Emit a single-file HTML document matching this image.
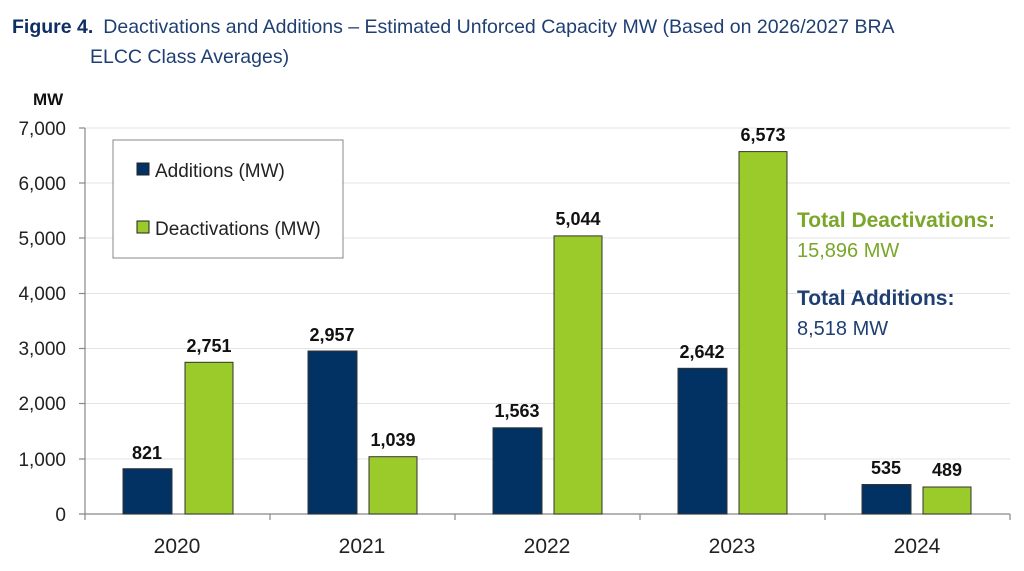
<!DOCTYPE html>
<html><head><style>
body{margin:0;background:#fff;}
svg{display:block;font-family:"Liberation Sans",Arial,sans-serif;}
</style></head><body>
<svg width="1024" height="571" viewBox="0 0 1024 571">
<text x="12" y="33" font-size="19.5" fill="#1f3f73"><tspan font-weight="bold" fill="#0f2e63">Figure 4.</tspan><tspan dx="10">Deactivations and Additions – Estimated Unforced Capacity MW (Based on 2026/2027 BRA</tspan></text>
<text x="90" y="63" font-size="19.5" fill="#1f3f73">ELCC Class Averages)</text>
<text x="33" y="105" font-size="17" font-weight="bold" fill="#111">MW</text>
<g stroke="#e3e3e3" stroke-width="1">
<line x1="85" y1="128" x2="1010" y2="128"/><line x1="85" y1="183" x2="1010" y2="183"/>
<line x1="85" y1="238" x2="1010" y2="238"/><line x1="85" y1="293.5" x2="1010" y2="293.5"/>
<line x1="85" y1="348.5" x2="1010" y2="348.5"/><line x1="85" y1="403.5" x2="1010" y2="403.5"/>
<line x1="85" y1="459" x2="1010" y2="459"/></g>
<g font-size="19" fill="#222" text-anchor="end">
<text x="66" y="135">7,000</text><text x="66" y="190">6,000</text><text x="66" y="245">5,000</text>
<text x="66" y="300">4,000</text><text x="66" y="355">3,000</text><text x="66" y="410">2,000</text>
<text x="66" y="466">1,000</text><text x="66" y="521">0</text></g>
<g stroke="#888" stroke-width="1.2">
<line x1="85" y1="128" x2="85" y2="520"/><line x1="79" y1="514" x2="1010" y2="514"/>
<line x1="79" y1="128" x2="85" y2="128"/><line x1="79" y1="183" x2="85" y2="183"/><line x1="79" y1="238" x2="85" y2="238"/><line x1="79" y1="293.5" x2="85" y2="293.5"/><line x1="79" y1="348.5" x2="85" y2="348.5"/><line x1="79" y1="403.5" x2="85" y2="403.5"/><line x1="79" y1="459" x2="85" y2="459"/>
<line x1="270" y1="514" x2="270" y2="520"/><line x1="455" y1="514" x2="455" y2="520"/><line x1="640" y1="514" x2="640" y2="520"/><line x1="825" y1="514" x2="825" y2="520"/><line x1="1010" y1="514" x2="1010" y2="520"/></g>
<g stroke="#333" stroke-width="1">
<rect x="123" y="468.7" width="49" height="45.3" fill="#023263"/>
<rect x="185" y="362.3" width="48" height="151.7" fill="#9acb2a"/>
<rect x="308" y="351" width="49" height="163" fill="#023263"/>
<rect x="369" y="456.7" width="48" height="57.3" fill="#9acb2a"/>
<rect x="493" y="427.8" width="49" height="86.2" fill="#023263"/>
<rect x="554" y="235.9" width="48" height="278.1" fill="#9acb2a"/>
<rect x="678" y="368.3" width="49" height="145.7" fill="#023263"/>
<rect x="739" y="151.6" width="48" height="362.4" fill="#9acb2a"/>
<rect x="862" y="484.5" width="49" height="29.5" fill="#023263"/>
<rect x="923" y="487" width="48" height="27" fill="#9acb2a"/></g>
<g font-size="18" font-weight="bold" fill="#111" text-anchor="middle">
<text x="147" y="459">821</text><text x="209" y="352">2,751</text>
<text x="332" y="341">2,957</text><text x="393" y="446">1,039</text>
<text x="517" y="417">1,563</text><text x="578" y="225">5,044</text>
<text x="702" y="358">2,642</text><text x="763" y="141">6,573</text>
<text x="886" y="474">535</text><text x="947" y="476">489</text></g>
<g font-size="21" fill="#222" text-anchor="middle">
<text x="177" y="553">2020</text><text x="362" y="553">2021</text><text x="547" y="553">2022</text><text x="732" y="553">2023</text><text x="917" y="553">2024</text></g>
<rect x="113" y="140" width="230" height="118" fill="#fff" stroke="#888" stroke-width="1"/>
<rect x="137" y="163" width="12" height="12" fill="#023263" stroke="#222"/>
<text x="155" y="177" font-size="19" fill="#222">Additions (MW)</text>
<rect x="137" y="221" width="12" height="12" fill="#9acb2a" stroke="#222"/>
<text x="155" y="235" font-size="19" fill="#222">Deactivations (MW)</text>
<text x="797" y="227" font-size="21" font-weight="bold" fill="#7aa62a">Total Deactivations:</text>
<text x="797" y="257" font-size="20" fill="#7aa62a">15,896 MW</text>
<text x="797" y="305" font-size="21" font-weight="bold" fill="#1f3f73">Total Additions:</text>
<text x="797" y="335" font-size="20" fill="#1f3f73">8,518 MW</text>
</svg>
</body></html>
